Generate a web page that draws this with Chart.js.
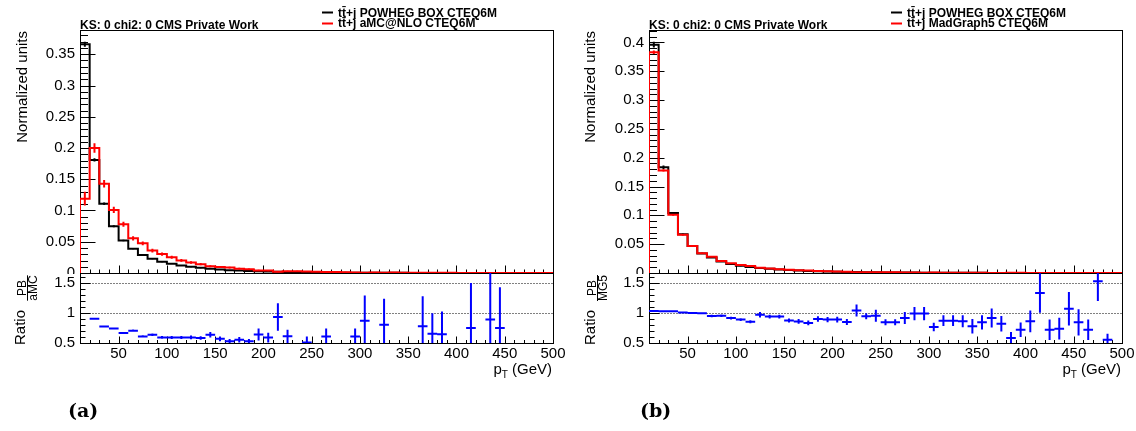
<!DOCTYPE html>
<html><head><meta charset="utf-8">
<script src="https://cdn.jsdelivr.net/npm/chart.js@4.4.1/dist/chart.umd.min.js"></script>
<style>
html,body{margin:0;padding:0;background:#fff;overflow:hidden;width:1136px;height:431px;}
canvas{position:absolute;left:0;top:0;}
.lab{position:absolute;font-family:"DejaVu Serif",serif;font-weight:bold;font-size:19px;top:399px;color:#000;}
</style></head><body>
<canvas id="cA" width="1136" height="431"></canvas>
<canvas id="cAr" width="1136" height="431"></canvas>
<canvas id="cB" width="1136" height="431"></canvas>
<canvas id="cBr" width="1136" height="431"></canvas>
<div class="lab" style="left:68px">(a)</div>
<div class="lab" style="left:640px">(b)</div>
<script>
// ---------------- data ----------------
const binEdges = [10,20,30,40,50,60,70,80,90,100,110,120,130,140,150,160,170,180,190,200,210,220,230,240,250,260,270,280,290,300,310,320,330,340,350,360,370,380,390,400,410,420,430,440,450,460,470,480,490,500];

// panel (a): POWHEG BOX vs aMC@NLO
const pbA = [0.366,0.181,0.111,0.075,0.052,0.039,0.029,0.023,0.018,0.015,0.012,0.010,0.0083,0.0068,0.0056,0.0046,0.0039,0.0032,0.0027,0.0023,0.0020,0.0017,0.0014,0.0012,0.0010,0.0009,0.0007,0.0006,0.0005,0.0005,0.0004,0.0004,0.0003,0.0003,0.0002,0.0002,0.0002,0.0002,0.0001,0.0001,0.0001,0.0001,0.0001,0.0001,0.0001,0.0001,0.0,0.0,0.0];
const pbAerr = [0.004,0.0025,0.002,0.0016,0.0013,0.0011,0.001,0.0009,0.0008,0.0007,0.0006,0.0006,0.0005,0.0005,0.0004,0.0004,0.0004,0.0003,0.0003,0.0003,0.0003,0.0003,0.0002,0.0002,0.0002,0.0002,0.0002,0.0002,0.0002,0.0002,0.0001,0.0001,0.0001,0.0001,0.0001,0.0001,0.0001,0.0001,0.0001,0.0001,0.0001,0.0001,0.0001,0.0001,0.0001,0.0001,0.0001,0.0001,0.0001];
const amc = [0.119,0.200,0.143,0.101,0.078,0.0555,0.0475,0.036,0.0304,0.0253,0.0202,0.0169,0.0142,0.0107,0.0098,0.0087,0.0070,0.0061,0.0042,0.0039,0.0021,0.0028,0.0030,0.0024,0.0022,0.0015,0.0016,0.0013,0.0008,0.0006,0.0009,0.0005,0.0007,0.0006,0.0005,0.0003,0.0003,0.0003,0.0003,0.0002,0.0001,0.0002,0.0001,0.0001,0.0001,0.0001,0.0001,0.0001,0.0001];
const amcErr = [0.011,0.0075,0.006,0.005,0.004,0.0033,0.003,0.003,0.0026,0.0024,0.0022,0.002,0.0018,0.0016,0.0015,0.0014,0.0013,0.0012,0.001,0.001,0.0008,0.0008,0.0008,0.0007,0.0007,0.0006,0.0006,0.0006,0.0005,0.0005,0.0005,0.0004,0.0004,0.0004,0.0004,0.0003,0.0003,0.0003,0.0003,0.0003,0.0002,0.0002,0.0002,0.0002,0.0002,0.0002,0.0002,0.0002,0.0002];
const ratioAx = [25,35,45,55,65,75,85,95,105,115,125,135,145,155,165,175,185,195,205,215,225,245,265,295,305,325,365,375,385,415,435,445];
const ratioAy = [0.905,0.777,0.743,0.667,0.705,0.61,0.638,0.593,0.593,0.593,0.593,0.583,0.638,0.57,0.528,0.555,0.528,0.64,0.59,0.933,0.611,0.51,0.61,0.61,0.872,0.806,0.78,0.656,0.644,0.75,0.89,0.75];
const ratioAerr = [0.008,0.01,0.012,0.015,0.018,0.02,0.02,0.022,0.025,0.025,0.03,0.03,0.045,0.04,0.04,0.045,0.04,0.1,0.08,0.23,0.11,0.1,0.13,0.13,0.42,0.43,0.5,0.34,0.38,0.75,0.8,0.68];

// panel (b): POWHEG BOX vs MadGraph5
const pbB = [0.396,0.1835,0.104,0.067,0.047,0.034,0.027,0.020,0.0155,0.0125,0.0105,0.0087,0.0072,0.006,0.005,0.0042,0.0036,0.003,0.0026,0.0022,0.0019,0.0016,0.0014,0.0012,0.0010,0.0009,0.0008,0.0007,0.0006,0.0005,0.0004,0.0004,0.0003,0.0003,0.0003,0.0002,0.0002,0.0002,0.0002,0.0001,0.0001,0.0001,0.0001,0.0001,0.0001,0.0001,0.0001,0.0001,0.0];
const pbBerr = [0.005,0.003,0.002,0.0015,0.0012,0.001,0.0009,0.0008,0.0007,0.0006,0.0005,0.0005,0.0004,0.0004,0.0004,0.0003,0.0003,0.0003,0.0003,0.0002,0.0002,0.0002,0.0002,0.0002,0.0002,0.0002,0.0001,0.0001,0.0001,0.0001,0.0001,0.0001,0.0001,0.0001,0.0001,0.0001,0.0001,0.0001,0.0001,0.0001,0.0001,0.0001,0.0001,0.0001,0.0001,0.0001,0.0001,0.0001,0.0001];
const mg5 = [0.383,0.178,0.101,0.0663,0.047,0.0342,0.0284,0.0209,0.0169,0.0140,0.0123,0.0090,0.0077,0.0064,0.0057,0.0049,0.0043,0.0033,0.0029,0.0025,0.0022,0.0015,0.0015,0.0013,0.0012,0.0011,0.0009,0.0007,0.0006,0.0007,0.0005,0.0005,0.0004,0.0004,0.0004,0.0002,0.0002,0.0003,0.0003,0.0001,0.0002,0.0001,0.0001,0.0001,0.0001,0.0001,0.0001,0.0001,0.0001];
const mg5Err = [0.003,0.002,0.0015,0.0012,0.001,0.0009,0.0008,0.0007,0.0006,0.0005,0.0005,0.0004,0.0004,0.0004,0.0003,0.0003,0.0003,0.0003,0.0002,0.0002,0.0002,0.0002,0.0002,0.0002,0.0002,0.0001,0.0001,0.0001,0.0001,0.0001,0.0001,0.0001,0.0001,0.0001,0.0001,0.0001,0.0001,0.0001,0.0001,0.0001,0.0001,0.0001,0.0001,0.0001,0.0001,0.0001,0.0001,0.0001,0.0001];
const ratioBx = [15,25,35,45,55,65,75,85,95,105,115,125,135,145,155,165,175,185,195,205,215,225,235,245,255,265,275,285,295,305,315,325,335,345,355,365,375,385,395,405,415,425,435,445,455,465,475,485];
const ratioBy = [1.035,1.03,1.03,1.01,1.0,0.995,0.95,0.955,0.915,0.89,0.855,0.97,0.94,0.94,0.875,0.86,0.835,0.9,0.89,0.89,0.85,1.04,0.944,0.956,0.844,0.844,0.917,0.99,0.99,0.767,0.872,0.872,0.861,0.778,0.844,0.917,0.822,0.583,0.722,0.861,1.333,0.722,0.739,1.072,0.844,0.722,1.528,0.556];
const ratioBerr = [0.006,0.008,0.01,0.012,0.014,0.016,0.02,0.02,0.022,0.024,0.026,0.045,0.03,0.032,0.035,0.038,0.04,0.045,0.045,0.048,0.05,0.1,0.05,0.1,0.05,0.05,0.1,0.11,0.11,0.07,0.09,0.09,0.1,0.12,0.12,0.16,0.13,0.1,0.12,0.18,0.33,0.17,0.18,0.28,0.22,0.17,0.33,0.1];

// ticks and texts
const yTicksA = [0,0.05,0.1,0.15,0.2,0.25,0.3,0.35];
const yTicksB = [0,0.05,0.1,0.15,0.2,0.25,0.3,0.35,0.4];
const ratioTicks = [0.5,1,1.5];
const xTicks = [50,100,150,200,250,300,350,400,450,500];
const headerText = 'KS: 0 chi2: 0 CMS Private Work';
const legendA = ['tt\u0304+j POWHEG BOX CTEQ6M', 'tt\u0304+j aMC@NLO CTEQ6M'];
const legendB = ['tt\u0304+j POWHEG BOX CTEQ6M', 'tt\u0304+j MadGraph5 CTEQ6M'];
const yTitle = 'Normalized units';
const ratioNumA = 'PB', ratioDenA = 'aMC';
const ratioNumB = 'PB', ratioDenB = 'MG5';

// ---------------- drawing ----------------
const FONT = '"Liberation Sans", Arial, Helvetica, sans-serif';
Chart.defaults.font.family = FONT;
Chart.defaults.color = '#000';

function histData(vals){
  const pts = [{x: binEdges[0], y: 0}];
  vals.forEach((v,i) => pts.push({x: binEdges[i], y: v}));
  pts.push({x: binEdges[vals.length], y: vals[vals.length-1]});
  return pts;
}
const binCenters = binEdges.slice(0,-1).map((e,i) => (e + binEdges[i+1]) / 2);
const halfBin = (binEdges[1] - binEdges[0]) / 2;
const fmt = v => String(parseFloat(Number(v).toFixed(3)));

const rootPlugin = {
  id: 'rootPlugin',
  beforeDatasetsDraw(chart, args, o) {
    const {ctx, chartArea: a, scales: {x, y}} = chart;
    ctx.save();
    ctx.strokeStyle = '#000';
    ctx.lineWidth = 1;
    const L = Math.round(a.left) + 0.5, R = Math.round(a.right) + 0.5;
    const T = Math.round(a.top) + 0.5, B = Math.round(a.bottom) + 0.5;
    if (o.dotted) {
      ctx.setLineDash([1, 2]);
      o.dotted.forEach(v => {
        const py = Math.round(y.getPixelForValue(v)) + 0.5;
        ctx.beginPath(); ctx.moveTo(L, py); ctx.lineTo(R, py); ctx.stroke();
      });
      ctx.setLineDash([]);
    }
    ctx.strokeRect(L, T, R - L, B - T);
    ctx.beginPath();
    const yk0 = Math.ceil(y.min / o.yMinor - 1e-6), yk1 = Math.floor(y.max / o.yMinor + 1e-6);
    const yr = Math.round(o.yMajor / o.yMinor);
    for (let k = yk0; k <= yk1; k++) {
      const py = Math.round(y.getPixelForValue(k * o.yMinor)) + 0.5;
      const len = (k % yr === 0) ? o.yLen : o.yLen / 2;
      ctx.moveTo(L, py); ctx.lineTo(L + len, py);
    }
    const xk0 = Math.ceil(x.min / o.xMinor - 1e-6), xk1 = Math.floor(x.max / o.xMinor + 1e-6);
    const xr = Math.round(o.xMajor / o.xMinor);
    for (let k = xk0; k <= xk1; k++) {
      const px = Math.round(x.getPixelForValue(k * o.xMinor)) + 0.5;
      const len = (k % xr === 0) ? o.xLen : o.xLen / 2;
      ctx.moveTo(px, B); ctx.lineTo(px, B - len);
    }
    ctx.stroke();
    ctx.restore();
  },
  afterDatasetDraw(chart, args) {
    const ds = chart.data.datasets[args.index];
    const {ctx, chartArea: a, scales: {x, y}} = chart;
    if (ds.errBars) {
      const eb = ds.errBars;
      ctx.save();
      ctx.beginPath(); ctx.rect(a.left, a.top, a.right - a.left, a.bottom - a.top); ctx.clip();
      ctx.strokeStyle = ds.borderColor; ctx.lineWidth = 2;
      ctx.beginPath();
      eb.xs.forEach((cx, i) => {
        const e = eb.errs[i]; if (!e) return;
        const px = x.getPixelForValue(cx);
        ctx.moveTo(px, y.getPixelForValue(eb.ys[i] - e));
        ctx.lineTo(px, y.getPixelForValue(eb.ys[i] + e));
        if (eb.horizontal) {
          const py = y.getPixelForValue(eb.ys[i]);
          ctx.moveTo(x.getPixelForValue(cx - halfBin), py);
          ctx.lineTo(x.getPixelForValue(cx + halfBin), py);
        }
      });
      ctx.stroke();
      ctx.restore();
    }
  },
  afterDraw(chart, args, o) {
    const {ctx, chartArea: a} = chart;
    ctx.save();
    ctx.fillStyle = '#000';
    if (o.clipZero) ctx.clearRect(a.left - 40, a.bottom + 1, 39, 20);
    if (o.legend) {
      ctx.font = 'bold 12px ' + FONT;
      ctx.textBaseline = 'alphabetic';
      ctx.textAlign = 'left';
      ctx.fillText(headerText, a.left, a.top - 1);
      const cols = ['#000', '#ff0000'];
      const ly = [12.5, 23.5], ty = [16.5, 27];
      o.legend.forEach((t, i) => {
        ctx.strokeStyle = cols[i]; ctx.lineWidth = 2;
        ctx.beginPath(); ctx.moveTo(a.left + 242, ly[i]); ctx.lineTo(a.left + 253, ly[i]); ctx.stroke();
        ctx.fillText(t, a.left + 258, ty[i]);
      });
    }
    if (o.yTitle) {
      ctx.save();
      ctx.translate(a.left - o.titleOff, a.top + 1);
      ctx.rotate(-Math.PI / 2);
      ctx.font = '15px ' + FONT;
      ctx.textAlign = 'right';
      ctx.fillText(o.yTitle, 0, 0);
      ctx.restore();
    }
    if (o.ratioTitle) {
      const [num, den] = o.ratioTitle;
      const y0 = a.bottom + 2;
      ctx.save();
      ctx.translate(a.left - o.titleOff, y0);
      ctx.rotate(-Math.PI / 2);
      ctx.font = '15px ' + FONT;
      ctx.textAlign = 'left';
      ctx.fillText('Ratio', 0, 0);
      ctx.font = '12px ' + FONT;
      const wn = ctx.measureText(num).width, wd = ctx.measureText(den).width;
      const fw = Math.max(wn, wd);
      const fc = y0 - o.fracCenter;
      ctx.textAlign = 'center';
      ctx.fillText(num, fc, 1);
      ctx.fillText(den, fc, 12);
      ctx.fillRect(fc - fw / 2, 2, fw, 1);
      ctx.restore();
      // x title p_T (GeV)
      ctx.font = '15px ' + FONT;
      ctx.textAlign = 'right';
      const base = a.bottom + 31;
      let xr = a.right - 1;
      ctx.fillText(' (GeV)', xr, base);
      xr -= ctx.measureText(' (GeV)').width;
      ctx.font = '10px ' + FONT;
      ctx.fillText('T', xr, base + 4);
      xr -= ctx.measureText('T').width;
      ctx.font = '15px ' + FONT;
      ctx.fillText('p', xr, base);
    }
    ctx.restore();
  }
};

function yScale(min, max, ticks, width) {
  return {
    type: 'linear', position: 'left', min, max,
    afterBuildTicks: s => { s.ticks = ticks.map(v => ({value: v})); },
    afterFit: s => { s.width = width; s.paddingTop = 0; s.paddingBottom = 0; },
    grid: {display: false, drawTicks: false}, border: {display: false},
    ticks: {autoSkip: false, padding: 5, font: {size: 15}, color: '#000', callback: v => fmt(v)}
  };
}

function topChart(id, padLeft, yW, padRight, yMax, yTicks, blackVals, blackErr, redVals, redErr, legend, titleOff) {
  return new Chart(document.getElementById(id), {
    type: 'line',
    data: {datasets: [
      {data: histData(redVals), borderColor: '#ff0000', borderWidth: 2, stepped: 'before', pointRadius: 0, fill: false,
       errBars: {xs: binCenters, ys: redVals, errs: redErr}},
      {data: histData(blackVals), borderColor: '#000000', borderWidth: 2, stepped: 'before', pointRadius: 0, fill: false,
       errBars: {xs: binCenters, ys: blackVals, errs: blackErr}}
    ]},
    options: {
      responsive: false, animation: false, devicePixelRatio: 1, events: [],
      layout: {padding: {left: padLeft, right: padRight, top: 30, bottom: 431 - 273}},
      scales: {
        x: {type: 'linear', min: binEdges[0], max: binEdges[binEdges.length - 1], display: false},
        y: yScale(0, yMax, yTicks, yW)
      },
      plugins: {
        legend: {display: false}, tooltip: {enabled: false},
        rootPlugin: {yMinor: 0.01, yMajor: 0.05, yLen: 15, xMinor: 10, xMajor: 50, xLen: 8,
                     legend, yTitle, titleOff, clipZero: true}
      }
    },
    plugins: [rootPlugin]
  });
}

function ratioChart(id, padLeft, yW, padRight, xs, ys, errs, num, den, titleOff) {
  return new Chart(document.getElementById(id), {
    type: 'scatter',
    data: {datasets: [
      {data: xs.map((x, i) => ({x, y: ys[i]})), borderColor: '#0000ff', backgroundColor: '#0000ff', pointRadius: 0, showLine: false,
       errBars: {xs, ys, errs, horizontal: true}}
    ]},
    options: {
      responsive: false, animation: false, devicePixelRatio: 1, events: [],
      layout: {padding: {left: padLeft, right: padRight, top: 273, bottom: 0}},
      scales: {
        x: {type: 'linear', position: 'bottom', min: binEdges[0], max: binEdges[binEdges.length - 1],
            afterBuildTicks: s => { s.ticks = xTicks.map(v => ({value: v})); },
            afterFit: s => { s.height = 431 - 343; s.paddingLeft = 0; s.paddingRight = 0; },
            grid: {display: false, drawTicks: false}, border: {display: false},
            ticks: {autoSkip: false, maxRotation: 0, minRotation: 0, padding: 2, font: {size: 15}, color: '#000', callback: v => fmt(v)}},
        y: yScale(0.5, 1.6667, ratioTicks, yW)
      },
      plugins: {
        legend: {display: false}, tooltip: {enabled: false},
        rootPlugin: {yMinor: 0.1, yMajor: 0.5, yLen: 10, xMinor: 10, xMajor: 50, xLen: 7,
                     dotted: [1, 1.5], ratioTitle: [num, den], titleOff, fracCenter: 288}
      }
    },
    plugins: [rootPlugin]
  });
}

topChart('cA', 0, 80, 1136 - 553, 0.3888, yTicksA, pbA, pbAerr, amc, amcErr, legendA, 53);
ratioChart('cAr', 0, 80, 1136 - 553, ratioAx, ratioAy, ratioAerr, ratioNumA, ratioDenA, 55);
topChart('cB', 568, 81, 1136 - 1122, 0.4215, yTicksB, pbB, pbBerr, mg5, mg5Err, legendB, 54);
ratioChart('cBr', 568, 81, 1136 - 1122, ratioBx, ratioBy, ratioBerr, ratioNumB, ratioDenB, 54);
</script>
</body></html>
